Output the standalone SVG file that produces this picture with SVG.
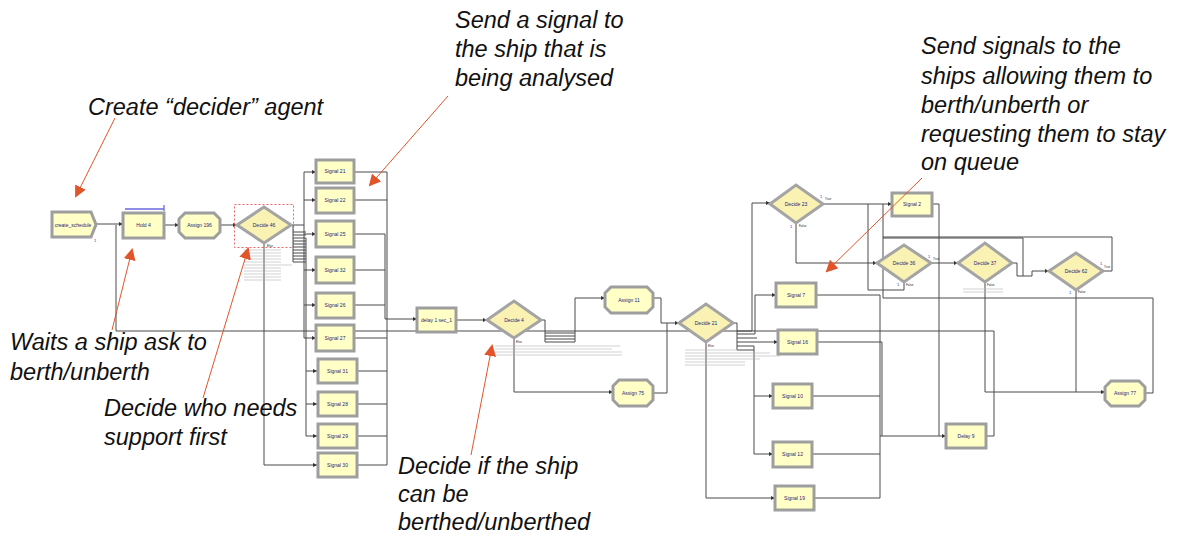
<svg xmlns="http://www.w3.org/2000/svg" width="1178" height="536" viewBox="0 0 1178 536">
<defs>
<marker id="ah" markerWidth="4" markerHeight="4" refX="4" refY="2" orient="auto" markerUnits="userSpaceOnUse"><path d="M0,0 L4,2 L0,4 z" fill="#333"/></marker>
<marker id="oh" markerWidth="12" markerHeight="12" refX="10" refY="6" orient="auto" markerUnits="userSpaceOnUse"><path d="M0,0 L12,6 L0,12 z" fill="#e0552a"/></marker>
<style>
.box{fill:#ffffc6;stroke:#9e9e9e;stroke-width:3}
.dia{fill:#faf2b2;stroke:#a4a4a4;stroke-width:3}
.lbl{font-family:"Liberation Sans",Arial,sans-serif;font-size:5px;fill:#24247a;text-anchor:middle}
.tiny{font-family:"Liberation Sans",Arial,sans-serif;font-size:3px;fill:#222}
.one{font-family:"Liberation Sans",Arial,sans-serif;font-size:4px;fill:#3333cc}
.ann{font-family:"Liberation Sans",Arial,sans-serif;font-size:23.5px;font-style:italic;fill:#111}
.cn{fill:none;stroke:#4a4a4a;stroke-width:1}
.cnd{fill:none;stroke:#b4b4b4;stroke-width:0.6}
.or{fill:none;stroke:#e0552a;stroke-width:1}
</style>
</defs>
<rect width="1178" height="536" fill="#ffffff"/>

<g id="connectors">
<path class="cn" d="M96 224 H123" marker-end="url(#ah)"/>
<path class="cn" d="M986 436 H994 V331 H116 V225"/>
<path class="cn" d="M164 225 H179" marker-end="url(#ah)"/>
<path class="cn" d="M220 225 H237" marker-end="url(#ah)"/>
<path class="cn" d="M291 225 H304"/>
<path class="cn" d="M293 225 V262"/>
<path class="cn" d="M293 232 H306 M293 235 H306 M293 238 H306 M293 241 H306 M293 244 H306 M293 247 H306 M293 250 H306 M293 253 H306 M293 256 H306 M293 259 H306 M293 262 H306"/>
<path class="cn" d="M304 172 V338 M306 238 V436"/>
<path class="cn" d="M304 172 H316" marker-end="url(#ah)"/>
<path class="cn" d="M304 200 H316" marker-end="url(#ah)"/>
<path class="cn" d="M304 234 H316" marker-end="url(#ah)"/>
<path class="cn" d="M304 270 H316" marker-end="url(#ah)"/>
<path class="cn" d="M304 305 H316" marker-end="url(#ah)"/>
<path class="cn" d="M304 338 H316" marker-end="url(#ah)"/>
<path class="cn" d="M306 371 H317" marker-end="url(#ah)"/>
<path class="cn" d="M306 404 H317" marker-end="url(#ah)"/>
<path class="cn" d="M306 436 H317" marker-end="url(#ah)"/>
<path class="cn" d="M264 243 V465 H317" marker-end="url(#ah)"/>
<path class="cn" d="M354 172 H387 M354 200 H387 M354 234 H385 M354 270 H385 M354 305 H385 M354 338 H387 M357 371 H387 M357 404 H387 M357 436 H387 M357 465 H387"/>
<path class="cn" d="M387 172 V465 M385 234 V319"/>
<path class="cn" d="M385 319 H417" marker-end="url(#ah)"/>
<path class="cn" d="M456 320 H487" marker-end="url(#ah)"/>
<path class="cn" d="M541 320 H545 V342"/>
<path class="cn" d="M545 333 H575 M545 336 H575 M545 339 H575 M545 342 H575"/>
<path class="cn" d="M575 342 V298 H605" marker-end="url(#ah)"/>
<path class="cn" d="M514 338 V392 H613" marker-end="url(#ah)"/>
<path class="cn" d="M653 298 H661 V323"/>
<path class="cn" d="M653 393 H667 V323"/>
<path class="cn" d="M661 323 H679" marker-end="url(#ah)"/>
<path class="cn" d="M733 323 H737 V350"/>
<path class="cn" d="M737 331 H752 M737 334 H755 M737 338 H757 M737 342 H757 M737 346 H754 M737 350 H754"/>
<path class="cn" d="M752 331 V203 H770" marker-end="url(#ah)"/>
<path class="cn" d="M755 334 V295 H776" marker-end="url(#ah)"/>
<path class="cn" d="M757 342 H778" marker-end="url(#ah)"/>
<path class="cn" d="M754 346 V454"/>
<path class="cn" d="M754 396 H773" marker-end="url(#ah)"/>
<path class="cn" d="M754 454 H773" marker-end="url(#ah)"/>
<path class="cn" d="M706 342 V498 H775" marker-end="url(#ah)"/>
<path class="cn" d="M816 295 H880 M817 342 H882 M812 396 H880 M812 454 H880 M814 498 H880"/>
<path class="cn" d="M880 295 V498 M882 342 V436"/>
<path class="cn" d="M880 436 H946" marker-end="url(#ah)"/>
<path class="cn" d="M932 204 H939 V436"/>
<path class="cn" d="M823 204 H892" marker-end="url(#ah)"/>
<path class="cn" d="M796 223 V263 H877" marker-end="url(#ah)"/>
<path class="cn" d="M904 282 V290 H868 V204"/>
<path class="cn" d="M931 263 H958" marker-end="url(#ah)"/>
<path class="cn" d="M1012 263 H1017 V276 H1032 V271 H1049" marker-end="url(#ah)"/>
<path class="cn" d="M1103 271 H1112 V237 H883"/>
<path class="cn" d="M883 238 H1023 V276"/>
<path class="cn" d="M1145 393 H1153 V298 H883 V204"/>
<path class="cn" d="M985 282 V392 H1105" marker-end="url(#ah)"/>
<path class="cn" d="M1076 290 V392"/>
</g>

<g id="conditions">
<path class="cnd" d="M244 250 H281 M244 253 H281 M244 256 H281 M244 259 H281 M244 262 H281 M244 265 H292 M244 268 H281 M244 271 H281 M244 274 H281 M244 277 H281 M244 280 H281"/>
<path class="cnd" d="M495 346 H620 M495 349 H612 M495 352 H622 M495 355 H622"/>
<path class="cnd" d="M685 350 H740 M685 353 H770 M685 356 H780 M685 359 H760 M685 362 H745 M685 365 H745"/>
<path class="cnd" d="M963 289 H1003 M963 292 H1003"/>
</g>

<g id="n_create"><polygon class="box" points="52,212 91,212 96,224.5 91,237 52,237"/><text class="lbl" x="73" y="226.5">create_schedule</text><text class="one" x="94" y="242">1</text></g>
<g id="n_hold4"><rect class="box" x="123" y="213" width="41" height="25"/><text class="lbl" x="143.5" y="227">Hold 4</text><path d="M125 209 H164 M164 205 V211" stroke="#6a6ae0" stroke-width="1.3" fill="none"/></g>
<g id="n_assign196"><polygon class="box" points="185,213 214,213 220,219 220,232 214,238 185,238 179,232 179,219"/><text class="lbl" x="199.5" y="227">Assign 196</text></g>
<g id="n_decide46"><rect x="234.5" y="204.5" width="59" height="43" fill="none" stroke="#e04040" stroke-width="0.8" stroke-dasharray="2,2"/><polygon class="dia" points="237,225 264,207 291,225 264,243"/><text class="lbl" x="264" y="227">Decide 46</text><text class="tiny" x="267" y="247">Else</text></g>

<g id="n_sig21"><rect class="box" x="316" y="160" width="38" height="23"/><text class="lbl" x="335" y="173">Signal 21</text></g>
<g id="n_sig22"><rect class="box" x="316" y="188" width="38" height="25"/><text class="lbl" x="335" y="202">Signal 22</text></g>
<g id="n_sig25"><rect class="box" x="316" y="221" width="38" height="26"/><text class="lbl" x="335" y="236">Signal 25</text></g>
<g id="n_sig32"><rect class="box" x="316" y="257" width="38" height="26"/><text class="lbl" x="335" y="272">Signal 32</text></g>
<g id="n_sig26"><rect class="box" x="316" y="293" width="38" height="25"/><text class="lbl" x="335" y="307">Signal 26</text></g>
<g id="n_sig27"><rect class="box" x="316" y="325" width="38" height="26"/><text class="lbl" x="335" y="340">Signal 27</text></g>
<g id="n_sig31"><rect class="box" x="318" y="359" width="39" height="24"/><text class="lbl" x="337.5" y="373">Signal 31</text></g>
<g id="n_sig28"><rect class="box" x="318" y="392" width="39" height="24"/><text class="lbl" x="337.5" y="406">Signal 28</text></g>
<g id="n_sig29"><rect class="box" x="318" y="424" width="39" height="24"/><text class="lbl" x="337.5" y="438">Signal 29</text></g>
<g id="n_sig30"><rect class="box" x="318" y="453" width="39" height="24"/><text class="lbl" x="337.5" y="467">Signal 30</text></g>

<g id="n_delay1"><rect class="box" x="417" y="308" width="39" height="24"/><text class="lbl" x="436.5" y="322">delay 1 sec_1</text></g>
<g id="n_decide4"><polygon class="dia" points="487,320 514,301 541,320 514,338"/><text class="lbl" x="514" y="322">Decide 4</text><text class="tiny" x="516" y="343">Else</text></g>
<g id="n_assign11"><polygon class="box" points="611,287 647,287 653,293 653,307 647,313 611,313 605,307 605,293"/><text class="lbl" x="629" y="302">Assign 11</text></g>
<g id="n_assign75"><polygon class="box" points="619,380 647,380 653,386 653,400 647,406 619,406 613,400 613,386"/><text class="lbl" x="633" y="395">Assign 75</text></g>
<g id="n_decide21"><polygon class="dia" points="679,323 706,304 733,323 706,342"/><text class="lbl" x="706" y="325">Decide 21</text><text class="tiny" x="708" y="347">Else</text></g>

<g id="n_sig7"><rect class="box" x="776" y="283" width="40" height="24"/><text class="lbl" x="796" y="297">Signal 7</text></g>
<g id="n_sig16"><rect class="box" x="778" y="330" width="39" height="24"/><text class="lbl" x="797.5" y="344">Signal 16</text></g>
<g id="n_sig10"><rect class="box" x="773" y="384" width="39" height="24"/><text class="lbl" x="792.5" y="398">Signal 10</text></g>
<g id="n_sig12"><rect class="box" x="773" y="442" width="39" height="25"/><text class="lbl" x="792.5" y="456">Signal 12</text></g>
<g id="n_sig19"><rect class="box" x="775" y="486" width="39" height="24"/><text class="lbl" x="794.5" y="500">Signal 19</text></g>

<g id="n_decide23"><polygon class="dia" points="770,204 796,185 823,204 796,223"/><text class="lbl" x="796" y="206">Decide 23</text><text class="one" x="820" y="198">1</text><text class="tiny" x="825" y="200">True</text><text class="one" x="790" y="228">1</text><text class="tiny" x="799" y="227">False</text></g>
<g id="n_sig2"><rect class="box" x="892" y="193" width="40" height="23"/><text class="lbl" x="912" y="206">Signal 2</text></g>
<g id="n_decide36"><polygon class="dia" points="877,263 904,245 931,263 904,282"/><text class="lbl" x="904" y="265">Decide 36</text><text class="one" x="928" y="258">1</text><text class="tiny" x="933" y="260">True</text><text class="one" x="897" y="286">1</text><text class="tiny" x="906" y="286">False</text></g>
<g id="n_decide37"><polygon class="dia" points="958,263 985,243 1012,263 985,282"/><text class="lbl" x="985" y="265">Decide 37</text><text class="tiny" x="987" y="286">False</text></g>
<g id="n_decide62"><polygon class="dia" points="1049,271 1076,253 1103,271 1076,290"/><text class="lbl" x="1076" y="273">Decide 62</text><text class="one" x="1100" y="265">1</text><text class="tiny" x="1104" y="268">True</text><text class="one" x="1069" y="294">1</text><text class="tiny" x="1078" y="293">False</text></g>
<g id="n_delay9"><rect class="box" x="946" y="424" width="40" height="24"/><text class="lbl" x="966" y="438">Delay 9</text></g>
<g id="n_assign77"><polygon class="box" points="1111,381 1139,381 1145,387 1145,400 1139,406 1111,406 1105,400 1105,387"/><text class="lbl" x="1125" y="395">Assign 77</text></g>

<g id="annotations">
<text class="ann" x="88" y="115">Create “decider” agent</text>
<text class="ann" x="455" y="28">Send a signal to</text>
<text class="ann" x="455" y="57">the ship that is</text>
<text class="ann" x="455" y="86">being analysed</text>
<text class="ann" x="921" y="54">Send signals to the</text>
<text class="ann" x="921" y="84">ships allowing them to</text>
<text class="ann" x="921" y="113">berth/unberth or</text>
<text class="ann" x="921" y="142">requesting them to stay</text>
<text class="ann" x="921" y="170">on queue</text>
<text class="ann" x="10" y="350">Waits a ship ask to</text>
<text class="ann" x="10" y="380">berth/unberth</text>
<text class="ann" x="104" y="416">Decide who needs</text>
<text class="ann" x="104" y="445">support first</text>
<text class="ann" x="398" y="474">Decide if the ship</text>
<text class="ann" x="398" y="502">can be</text>
<text class="ann" x="398" y="530">berthed/unberthed</text>
<path class="or" d="M115 118 L76 196" marker-end="url(#oh)"/>
<path class="or" d="M448 96 L370 185" marker-end="url(#oh)"/>
<path class="or" d="M922 178 L827 271" marker-end="url(#oh)"/>
<path class="or" d="M112 330 L132 250" marker-end="url(#oh)"/>
<path class="or" d="M203 398 L248 249" marker-end="url(#oh)"/>
<path class="or" d="M471 455 L492 346" marker-end="url(#oh)"/>
</g>
</svg>
